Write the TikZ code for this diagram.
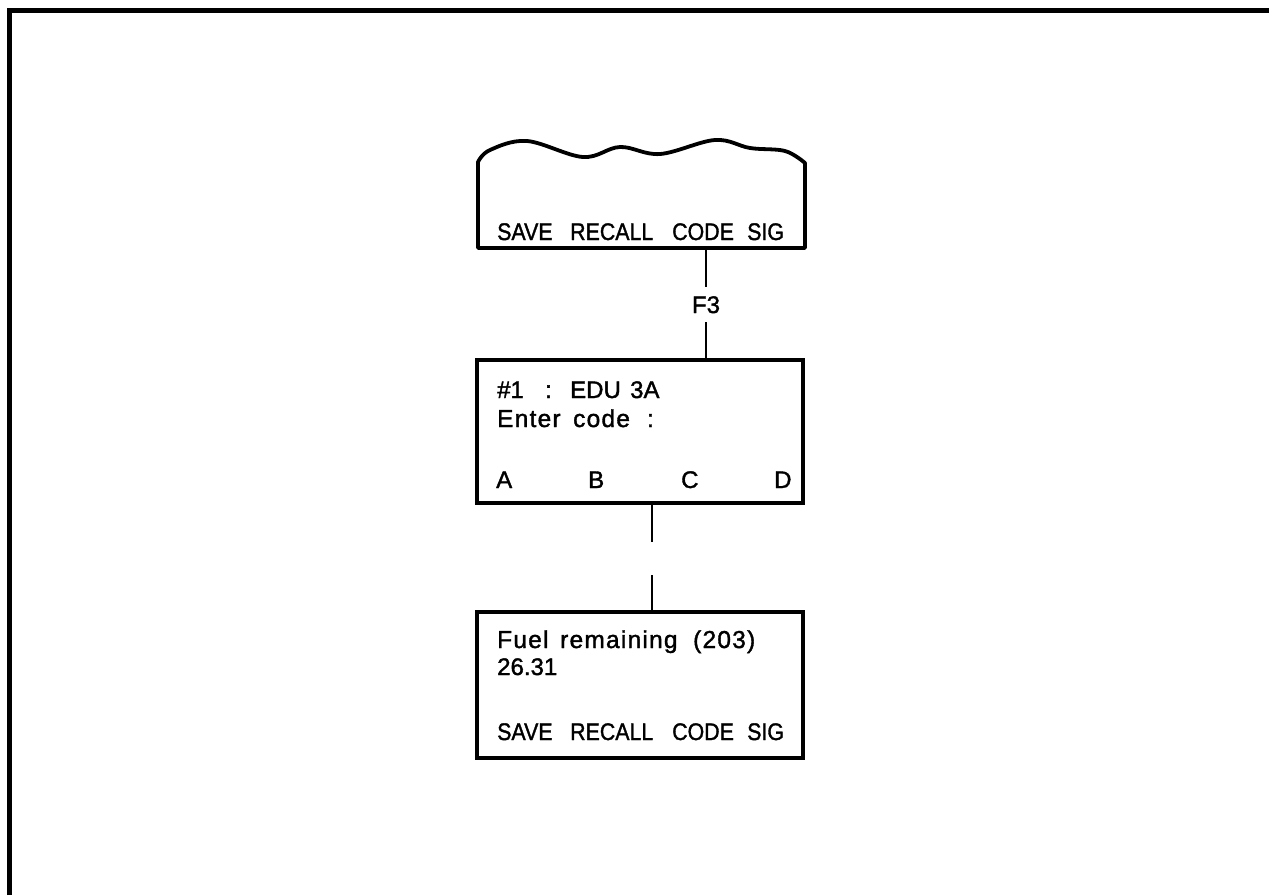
\documentclass[tikz,border=0pt]{standalone}
\usepackage{graphicx}
\usepackage{fontspec}
\setmainfont{Liberation Sans}
\newfontfamily\lcdfont[FakeBold=1.5]{Liberation Sans}
\newfontfamily\lcdwide[FakeBold=1.5,LetterSpace=5]{Liberation Sans}
\newcommand{\wordbox}[2]{\makebox[#1pt][l]{#2}}
\newcommand{\capword}[2]{\makebox[#1pt][l]{\scalebox{0.89}[1]{#2}}}
\begin{document}
\begin{tikzpicture}[x=1pt,y=-1pt,
  boxline/.style={line width=3.8pt},
  screen/.style={draw,boxline,minimum width=326pt,inner sep=0pt},
  lbl/.style={font=\lcdfont\fontsize{24}{28}\selectfont,inner sep=0pt,anchor=base west},
  lblw/.style={font=\lcdwide\fontsize{24.5}{28}\selectfont,inner sep=0pt,anchor=base west},
  conn/.style={line width=2pt}]
\useasboundingbox (0,0) rectangle (1269,895);
% frame
\draw[line width=5pt] (9,895) -- (9,10.5) -- (1269,10.5);
% top (torn) screen
\node[inner sep=0pt,minimum width=327pt,minimum height=100pt] (topbox) at (641.5,198) {};
\draw[boxline,line join=round] (478,248) -- (478,162)
  -- plot[smooth,tension=0.6] coordinates {(478,162) (490,150) (527,141) (583,157) (620,147) (660,154) (715,140) (750,148) (785,151) (805,163)}
  -- (805,248) -- cycle;
\node[lbl] (t1) at (497,240) {\capword{73}{SAVE}\capword{102}{RECALL}\capword{75}{CODE}\capword{40}{SIG}};
% F3 label
\node[font=\lcdfont\fontsize{24}{28}\selectfont,text height=17pt,text depth=0pt,inner xsep=2pt,inner ysep=9pt] (f3) at (706,304.5) {F3};
% middle screen
\node[screen,minimum height=143pt] (mid) at (640,431.5) {};
\node[lbl] (m1) at (497,398) {\wordbox{48}{\#1}\wordbox{25}{:}\wordbox{60}{EDU}3A};
\node[lblw] (m2) at (497,427) {\wordbox{76}{Enter}\wordbox{74}{code}:};
\node[lbl] (ka) at (496,488) {A};
\node[lbl] (kb) at (588,488) {B};
\node[lbl] (kc) at (681,488) {C};
\node[lbl] (kd) at (774,488) {D};
% bottom screen
\node[screen,minimum height=146pt] (bot) at (640,685) {};
\node[lblw] (b1) at (497,648) {\wordbox{63}{Fuel}\wordbox{133}{remaining}(203)};
\node[lbl] (b2) at (497,675) {26.31};
\node[lbl] (b3) at (497,740) {\capword{73}{SAVE}\capword{102}{RECALL}\capword{75}{CODE}\capword{40}{SIG}};
% connectors
\draw[conn] (topbox.south -| f3.north) -- (f3.north);
\draw[conn] (f3.south) -- (mid.north -| f3.south);
\coordinate (c1) at (652,542);
\coordinate (c2) at (652,575);
\draw[conn] (mid.south -| c1) -- (c1);
\draw[conn] (c2) -- (bot.north -| c2);
\end{tikzpicture}
\end{document}
